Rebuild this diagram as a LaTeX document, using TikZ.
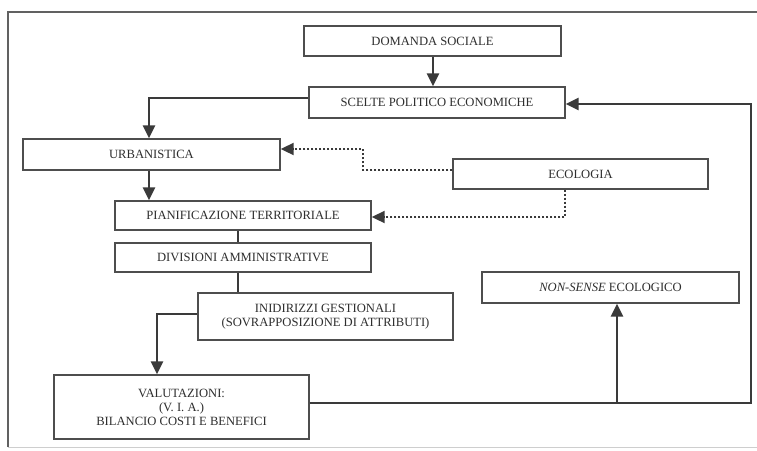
\documentclass[tikz,border=0pt]{standalone}
\usepackage{fontspec}
\setmainfont{Liberation Serif}
\usetikzlibrary{arrows.meta}
\definecolor{ink}{HTML}{3A3A3A}
\definecolor{txt}{HTML}{2E2E2E}
\tikzset{
  box/.style={draw=ink!90, line width=1.4pt, fill=white, text=txt, inner sep=0pt,
    font=\fontsize{12.6}{14}\selectfont, align=center},
  arr/.style={draw=ink, line width=2.5pt, -{Triangle[length=13pt,width=12pt]}},
  dotarr/.style={draw=ink, line width=2pt, dotted, -{Triangle[length=13pt,width=12pt]}},
  ln/.style={draw=ink, line width=2pt},
}
\begin{document}
\begin{tikzpicture}[x=1pt,y=-1pt]
\useasboundingbox (0,0) rectangle (757,450);
\draw[ink!80, line width=1.2pt] (8,447) -- (8,12) -- (757,12);
\draw[ink!25, line width=0.8pt] (8,447) -- (757,447);

\node[box, minimum width=257pt, minimum height=30pt] (dom) at (432.5,41) {DOMANDA SOCIALE};
\node[box, minimum width=256pt, minimum height=31pt] (sce) at (437,102.5) {SCELTE POLITICO ECONOMICHE};
\node[box, minimum width=257pt, minimum height=31pt] (urb) at (151.5,154.5) {URBANISTICA};
\node[box, minimum width=255pt, minimum height=30pt] (eco) at (580.5,174) {ECOLOGIA};
\node[box, minimum width=256pt, minimum height=29pt] (pia) at (243,215.5) {PIANIFICAZIONE TERRITORIALE};
\node[box, minimum width=256pt, minimum height=29pt] (div) at (243,257.5) {DIVISIONI AMMINISTRATIVE};
\node[box, minimum width=255pt, minimum height=47pt] (ind) at (325.5,316.5) {INIDIRIZZI GESTIONALI\\(SOVRAPPOSIZIONE DI ATTRIBUTI)};
\node[box, minimum width=257pt, minimum height=31pt] (non) at (610.5,287.5) {\textit{NON-SENSE} ECOLOGICO};
\node[box, minimum width=255pt, minimum height=64pt] (val) at (181.5,407) {VALUTAZIONI:\\(V. I. A.)\\BILANCIO COSTI E BENEFICI};

\coordinate (c1) at (149,98);
\coordinate (c2) at (363,149);
\coordinate (c3) at (363,170);
\coordinate (c4) at (565,217);
\coordinate (c5) at (157,314);
\coordinate (c6) at (751,403);
\coordinate (c7) at (751,104);
\coordinate (c8) at (617,403);

\draw[arr] (dom.south -| 433,0) -- (sce.north -| 433,0);
\draw[arr] (sce.west |- c1) -- (c1) -- (urb.north -| c1);
\draw[arr] (urb.south -| c1) -- (pia.north -| c1);
\draw[dotarr] (eco.west |- c3) -- (c3) -- (c2) -- (urb.east |- c2);
\draw[dotarr] (eco.south -| c4) -- (c4) -- (pia.east |- c4);
\draw[ln] (pia.south -| 238,0) -- (div.north -| 238,0);
\draw[ln] (div.south -| 238,0) -- (ind.north -| 238,0);
\draw[arr] (ind.west |- c5) -- (c5) -- (val.north -| c5);
\draw[arr] (val.east |- c6) -- (c6) -- (c7) -- (sce.east |- c7);
\draw[arr] (c8) -- (non.south -| c8);
\end{tikzpicture}
\end{document}
